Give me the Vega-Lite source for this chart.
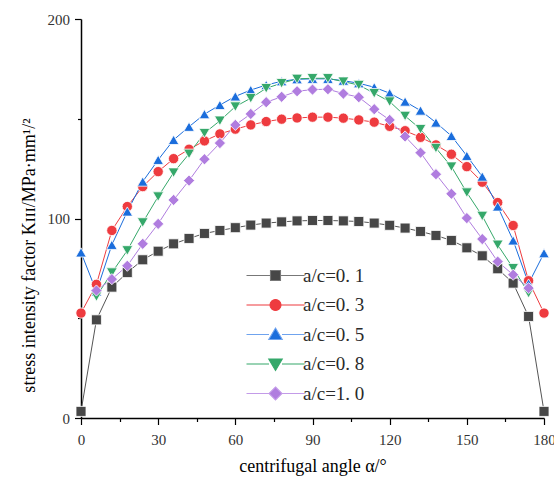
{
  "$schema": "https://vega.github.io/schema/vega-lite/v6.json",
  "width": 463,
  "height": 399,
  "autosize": {"type": "none"},
  "padding": {"left": 81, "top": 19, "right": 10, "bottom": 63},
  "background": "white",
  "config": {
    "view": {"stroke": null},
    "font": "Liberation Serif",
    "axis": {
      "labelFont": "Liberation Serif",
      "titleFont": "Liberation Serif",
      "labelFontSize": 15,
      "titleFontSize": 18,
      "titleFontWeight": "normal",
      "labelColor": "#333333",
      "titleColor": "#000000",
      "domainColor": "#000000",
      "domainWidth": 1.5,
      "tickColor": "#000000",
      "tickWidth": 1.2,
      "grid": false,
      "labelFlush": false
    }
  },
  "datasets": {
    "pts": [
      {"s": "a/c=0. 1", "a": 0, "k": 3.3}, {"s": "a/c=0. 1", "a": 6, "k": 49.2}, {"s": "a/c=0. 1", "a": 12, "k": 65.6}, {"s": "a/c=0. 1", "a": 18, "k": 72.9}, {"s": "a/c=0. 1", "a": 24, "k": 79.3}, {"s": "a/c=0. 1", "a": 30, "k": 83.6}, {"s": "a/c=0. 1", "a": 36, "k": 87.3}, {"s": "a/c=0. 1", "a": 42, "k": 90}, {"s": "a/c=0. 1", "a": 48, "k": 92.5}, {"s": "a/c=0. 1", "a": 54, "k": 94}, {"s": "a/c=0. 1", "a": 60, "k": 95.4}, {"s": "a/c=0. 1", "a": 66, "k": 96.7}, {"s": "a/c=0. 1", "a": 72, "k": 97.7}, {"s": "a/c=0. 1", "a": 78, "k": 98.3}, {"s": "a/c=0. 1", "a": 84, "k": 98.8}, {"s": "a/c=0. 1", "a": 90, "k": 99}, {"s": "a/c=0. 1", "a": 96, "k": 99}, {"s": "a/c=0. 1", "a": 102, "k": 98.8}, {"s": "a/c=0. 1", "a": 108, "k": 98.5}, {"s": "a/c=0. 1", "a": 114, "k": 97.7}, {"s": "a/c=0. 1", "a": 120, "k": 96.6}, {"s": "a/c=0. 1", "a": 126, "k": 95.2}, {"s": "a/c=0. 1", "a": 132, "k": 93.5}, {"s": "a/c=0. 1", "a": 138, "k": 91.5}, {"s": "a/c=0. 1", "a": 144, "k": 89}, {"s": "a/c=0. 1", "a": 150, "k": 85.3}, {"s": "a/c=0. 1", "a": 156, "k": 81.3}, {"s": "a/c=0. 1", "a": 162, "k": 74.8}, {"s": "a/c=0. 1", "a": 168, "k": 67.6}, {"s": "a/c=0. 1", "a": 174, "k": 50.9}, {"s": "a/c=0. 1", "a": 180, "k": 3.3},
      {"s": "a/c=0. 3", "a": 0, "k": 52.6}, {"s": "a/c=0. 3", "a": 6, "k": 67}, {"s": "a/c=0. 3", "a": 12, "k": 94}, {"s": "a/c=0. 3", "a": 18, "k": 106}, {"s": "a/c=0. 3", "a": 24, "k": 116}, {"s": "a/c=0. 3", "a": 30, "k": 123.5}, {"s": "a/c=0. 3", "a": 36, "k": 130}, {"s": "a/c=0. 3", "a": 42, "k": 134.7}, {"s": "a/c=0. 3", "a": 48, "k": 138.9}, {"s": "a/c=0. 3", "a": 54, "k": 142.4}, {"s": "a/c=0. 3", "a": 60, "k": 144.8}, {"s": "a/c=0. 3", "a": 66, "k": 146.9}, {"s": "a/c=0. 3", "a": 72, "k": 148.6}, {"s": "a/c=0. 3", "a": 78, "k": 149.8}, {"s": "a/c=0. 3", "a": 84, "k": 150.4}, {"s": "a/c=0. 3", "a": 90, "k": 150.8}, {"s": "a/c=0. 3", "a": 96, "k": 150.8}, {"s": "a/c=0. 3", "a": 102, "k": 150.3}, {"s": "a/c=0. 3", "a": 108, "k": 149.4}, {"s": "a/c=0. 3", "a": 114, "k": 148.3}, {"s": "a/c=0. 3", "a": 120, "k": 146.2}, {"s": "a/c=0. 3", "a": 126, "k": 144}, {"s": "a/c=0. 3", "a": 132, "k": 140.7}, {"s": "a/c=0. 3", "a": 138, "k": 136.9}, {"s": "a/c=0. 3", "a": 144, "k": 132.2}, {"s": "a/c=0. 3", "a": 150, "k": 126}, {"s": "a/c=0. 3", "a": 156, "k": 118.2}, {"s": "a/c=0. 3", "a": 162, "k": 108}, {"s": "a/c=0. 3", "a": 168, "k": 96.5}, {"s": "a/c=0. 3", "a": 174, "k": 68.8}, {"s": "a/c=0. 3", "a": 180, "k": 52.6},
      {"s": "a/c=0. 5", "a": 0, "k": 83}, {"s": "a/c=0. 5", "a": 6, "k": 63.4}, {"s": "a/c=0. 5", "a": 12, "k": 86.8}, {"s": "a/c=0. 5", "a": 18, "k": 103.5}, {"s": "a/c=0. 5", "a": 24, "k": 118.5}, {"s": "a/c=0. 5", "a": 30, "k": 129.4}, {"s": "a/c=0. 5", "a": 36, "k": 139.4}, {"s": "a/c=0. 5", "a": 42, "k": 146}, {"s": "a/c=0. 5", "a": 48, "k": 152.3}, {"s": "a/c=0. 5", "a": 54, "k": 156.9}, {"s": "a/c=0. 5", "a": 60, "k": 161.2}, {"s": "a/c=0. 5", "a": 66, "k": 164.4}, {"s": "a/c=0. 5", "a": 72, "k": 166.9}, {"s": "a/c=0. 5", "a": 78, "k": 168.8}, {"s": "a/c=0. 5", "a": 84, "k": 169.8}, {"s": "a/c=0. 5", "a": 90, "k": 170}, {"s": "a/c=0. 5", "a": 96, "k": 170}, {"s": "a/c=0. 5", "a": 102, "k": 169.1}, {"s": "a/c=0. 5", "a": 108, "k": 167.8}, {"s": "a/c=0. 5", "a": 114, "k": 165.8}, {"s": "a/c=0. 5", "a": 120, "k": 162.8}, {"s": "a/c=0. 5", "a": 126, "k": 158.6}, {"s": "a/c=0. 5", "a": 132, "k": 154.1}, {"s": "a/c=0. 5", "a": 138, "k": 148.1}, {"s": "a/c=0. 5", "a": 144, "k": 141.4}, {"s": "a/c=0. 5", "a": 150, "k": 131.4}, {"s": "a/c=0. 5", "a": 156, "k": 121}, {"s": "a/c=0. 5", "a": 162, "k": 106}, {"s": "a/c=0. 5", "a": 168, "k": 89}, {"s": "a/c=0. 5", "a": 174, "k": 67.4}, {"s": "a/c=0. 5", "a": 180, "k": 82.6},
      {"s": "a/c=0. 8", "a": 6, "k": 60.9}, {"s": "a/c=0. 8", "a": 12, "k": 72.9}, {"s": "a/c=0. 8", "a": 18, "k": 84}, {"s": "a/c=0. 8", "a": 24, "k": 98}, {"s": "a/c=0. 8", "a": 30, "k": 111}, {"s": "a/c=0. 8", "a": 36, "k": 123}, {"s": "a/c=0. 8", "a": 42, "k": 132.4}, {"s": "a/c=0. 8", "a": 48, "k": 142.8}, {"s": "a/c=0. 8", "a": 54, "k": 149}, {"s": "a/c=0. 8", "a": 60, "k": 156.1}, {"s": "a/c=0. 8", "a": 66, "k": 160.3}, {"s": "a/c=0. 8", "a": 72, "k": 165.3}, {"s": "a/c=0. 8", "a": 78, "k": 167.8}, {"s": "a/c=0. 8", "a": 84, "k": 170}, {"s": "a/c=0. 8", "a": 90, "k": 170.3}, {"s": "a/c=0. 8", "a": 96, "k": 170.3}, {"s": "a/c=0. 8", "a": 102, "k": 168.6}, {"s": "a/c=0. 8", "a": 108, "k": 166.9}, {"s": "a/c=0. 8", "a": 114, "k": 162.8}, {"s": "a/c=0. 8", "a": 120, "k": 158.6}, {"s": "a/c=0. 8", "a": 126, "k": 151.4}, {"s": "a/c=0. 8", "a": 132, "k": 144.8}, {"s": "a/c=0. 8", "a": 138, "k": 135.3}, {"s": "a/c=0. 8", "a": 144, "k": 126}, {"s": "a/c=0. 8", "a": 150, "k": 113}, {"s": "a/c=0. 8", "a": 156, "k": 101.3}, {"s": "a/c=0. 8", "a": 162, "k": 86.8}, {"s": "a/c=0. 8", "a": 168, "k": 75.1}, {"s": "a/c=0. 8", "a": 174, "k": 62.6},
      {"s": "a/c=1. 0", "a": 6, "k": 63.9}, {"s": "a/c=1. 0", "a": 12, "k": 69.6}, {"s": "a/c=1. 0", "a": 18, "k": 76.3}, {"s": "a/c=1. 0", "a": 24, "k": 87.3}, {"s": "a/c=1. 0", "a": 30, "k": 97.3}, {"s": "a/c=1. 0", "a": 36, "k": 109.3}, {"s": "a/c=1. 0", "a": 42, "k": 119}, {"s": "a/c=1. 0", "a": 48, "k": 129.7}, {"s": "a/c=1. 0", "a": 54, "k": 137.8}, {"s": "a/c=1. 0", "a": 60, "k": 146.9}, {"s": "a/c=1. 0", "a": 66, "k": 152.4}, {"s": "a/c=1. 0", "a": 72, "k": 158.3}, {"s": "a/c=1. 0", "a": 78, "k": 161}, {"s": "a/c=1. 0", "a": 84, "k": 163.8}, {"s": "a/c=1. 0", "a": 90, "k": 164.6}, {"s": "a/c=1. 0", "a": 96, "k": 164.8}, {"s": "a/c=1. 0", "a": 102, "k": 162.6}, {"s": "a/c=1. 0", "a": 108, "k": 160.8}, {"s": "a/c=1. 0", "a": 114, "k": 154.8}, {"s": "a/c=1. 0", "a": 120, "k": 149.4}, {"s": "a/c=1. 0", "a": 126, "k": 141.1}, {"s": "a/c=1. 0", "a": 132, "k": 133}, {"s": "a/c=1. 0", "a": 138, "k": 122.2}, {"s": "a/c=1. 0", "a": 144, "k": 112.4}, {"s": "a/c=1. 0", "a": 150, "k": 100.2}, {"s": "a/c=1. 0", "a": 156, "k": 89.7}, {"s": "a/c=1. 0", "a": 162, "k": 78.4}, {"s": "a/c=1. 0", "a": 168, "k": 71.8}, {"s": "a/c=1. 0", "a": 174, "k": 65.1}
    ]
  },
  "data": {"name": "pts"},
  "encoding": {
    "x": {
      "field": "a", "type": "quantitative",
      "scale": {"domain": [0, 180], "nice": false, "zero": false},
      "axis": {
        "title": "centrifugal angle α/°",
        "values": [0, 15, 30, 45, 60, 75, 90, 105, 120, 135, 150, 165, 180],
        "labelExpr": "datum.value % 30 === 0 ? datum.label : ''",
        "tickSize": {"condition": {"test": "datum.value % 30 !== 0", "value": 3.5}, "value": 6.5},
        "labelPadding": 8,
        "titlePadding": 10
      }
    },
    "y": {
      "field": "k", "type": "quantitative",
      "scale": {"domain": [0, 200], "nice": false},
      "axis": {
        "title": "stress intensity factor Kɪɪɪ/MPa·mm¹/²",
        "values": [0, 50, 100, 150, 200],
        "labelExpr": "datum.value % 100 === 0 ? datum.label : ''",
        "tickSize": {"condition": {"test": "datum.value % 100 !== 0", "value": 3.5}, "value": 6.5},
        "labelPadding": 5,
        "titlePadding": 9,
        "titleY": 236
      }
    }
  },
  "layer": [
    {
      "mark": {"type": "line", "strokeWidth": 1, "clip": false},
      "encoding": {
        "detail": {"field": "s"},
        "color": {
          "field": "s", "type": "nominal", "legend": null,
          "scale": {"domain": ["a/c=0. 1", "a/c=0. 3", "a/c=0. 5", "a/c=0. 8", "a/c=1. 0"], "range": ["#555555", "#ee3b3f", "#1a6ddc", "#35a86a", "#b07ddf"]}
        }
      }
    },
    {
      "mark": {"type": "point", "filled": true, "opacity": 1, "stroke": "white", "strokeWidth": 0.8},
      "encoding": {
        "color": {
          "field": "s", "type": "nominal", "legend": null,
          "scale": {"domain": ["a/c=0. 1", "a/c=0. 3", "a/c=0. 5", "a/c=0. 8", "a/c=1. 0"], "range": ["#474747", "#ee3b3f", "#1a6ddc", "#35a86a", "#b07ddf"]}
        },
        "shape": {
          "field": "s", "type": "nominal", "legend": null,
          "scale": {"domain": ["a/c=0. 1", "a/c=0. 3", "a/c=0. 5", "a/c=0. 8", "a/c=1. 0"], "range": ["square", "circle", "triangle-up", "triangle-down", "diamond"]}
        },
        "size": {
          "field": "s", "type": "nominal", "legend": null,
          "scale": {"domain": ["a/c=0. 1", "a/c=0. 3", "a/c=0. 5", "a/c=0. 8", "a/c=1. 0"], "range": [100, 125, 150, 150, 130]}
        }
      }
    },
    {
      "transform": [{"filter": "false"}],
      "mark": {"type": "point", "filled": true, "opacity": 1, "size": 49, "strokeWidth": 1.1},
      "encoding": {
        "color": {
          "field": "s", "type": "nominal",
          "scale": {"domain": ["a/c=0. 1", "a/c=0. 3", "a/c=0. 5", "a/c=0. 8", "a/c=1. 0"], "range": ["#474747", "#ee3b3f", "#1a6ddc", "#35a86a", "#b07ddf"]},
          "legend": {
            "title": null, "orient": "none", "legendX": 185, "legendY": 247,
            "padding": 0, "labelFont": "Liberation Serif", "labelFontSize": 19, "labelColor": "#2a2a2a",
            "labelOffset": 18, "rowPadding": 9.5, "symbolStrokeWidth": 1.1
          }
        },
        "stroke": {
          "field": "s", "type": "nominal",
          "scale": {"domain": ["a/c=0. 1", "a/c=0. 3", "a/c=0. 5", "a/c=0. 8", "a/c=1. 0"], "range": ["#777777", "#ee3b3f", "#6fa3ee", "#35a86a", "#c39be8"]},
          "legend": {
            "title": null, "orient": "none", "legendX": 185, "legendY": 247,
            "padding": 0, "labelFont": "Liberation Serif", "labelFontSize": 19, "labelColor": "#2a2a2a",
            "labelOffset": 18, "rowPadding": 9.5, "symbolStrokeWidth": 1.1
          }
        },
        "shape": {
          "field": "s", "type": "nominal",
          "scale": {"domain": ["a/c=0. 1", "a/c=0. 3", "a/c=0. 5", "a/c=0. 8", "a/c=1. 0"], "range": [
            "M-5.8,0H-1M1,0H5.8M-1,-1H1V1H-1Z",
            "M-5.8,0H-1.1M1.1,0H5.8M1.1,0A1.1,1.1,0,1,1,-1.1,0A1.1,1.1,0,1,1,1.1,0Z",
            "M-5.8,0H-1.3M1.3,0H5.8M0,-1.3L1.35,1L-1.35,1Z",
            "M-5.8,0H-1.3M1.3,0H5.8M0,1.3L1.35,-1L-1.35,-1Z",
            "M-5.8,0H-1.3M1.3,0H5.8M0,-1.3L1.3,0L0,1.3L-1.3,0Z"
          ]},
          "legend": {
            "title": null, "orient": "none", "legendX": 185, "legendY": 247,
            "padding": 0, "labelFont": "Liberation Serif", "labelFontSize": 19, "labelColor": "#2a2a2a",
            "labelOffset": 18, "rowPadding": 9.5, "symbolStrokeWidth": 1.1
          }
        }
      }
    }
  ],
  "resolve": {
    "scale": {"color": "independent", "shape": "independent", "size": "independent", "stroke": "independent"},
    "legend": {"color": "independent", "shape": "independent", "size": "independent", "stroke": "independent"}
  }
}
